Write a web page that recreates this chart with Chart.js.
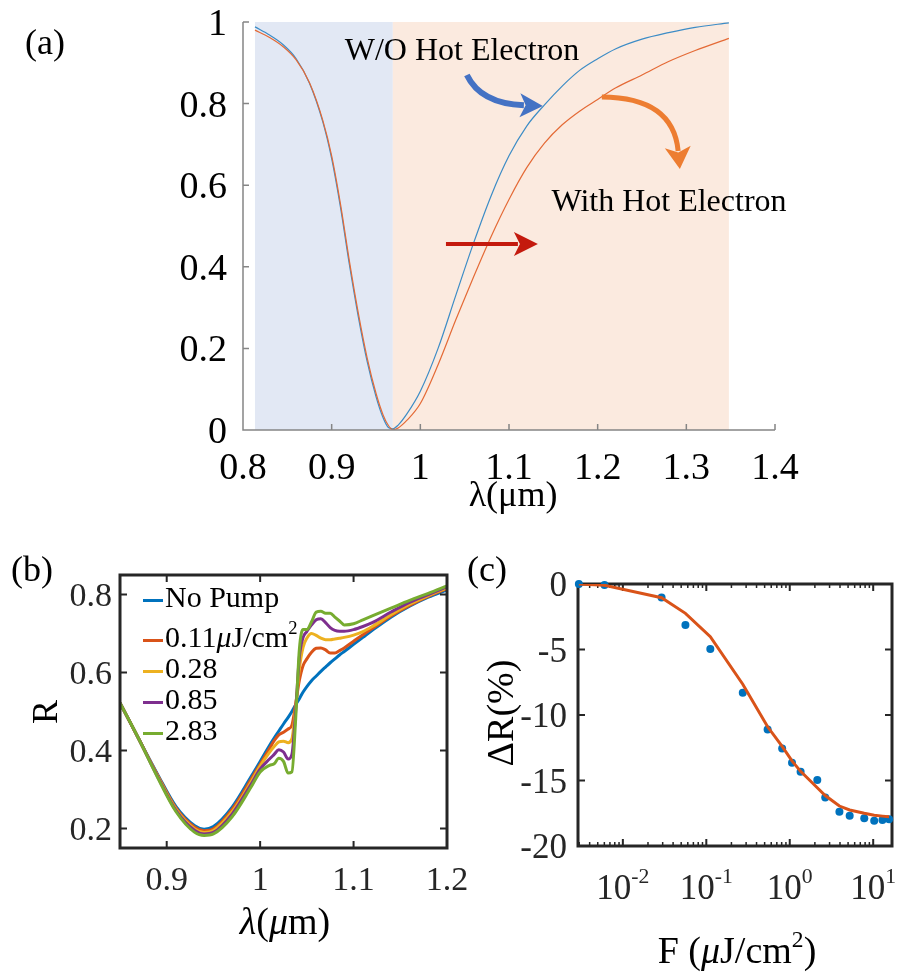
<!DOCTYPE html>
<html>
<head>
<title>Reflectance with and without hot electrons</title>
<script src="https://cdn.jsdelivr.net/npm/chart.js"></script>
<style>
  body { margin: 0; background: #fff; }
  #fig { position: relative; width: 897px; height: 972px; overflow: hidden;
         font-family: "Liberation Serif", "Times New Roman", serif; color: #000; }
  #fig canvas { position: absolute; }
  .txt { position: absolute; white-space: nowrap; line-height: 1; transform: translate(-50%, -50%); }
  .rot { transform: translate(-50%, -50%) rotate(-90deg); }
  .tick { position: absolute; white-space: nowrap; line-height: 1; }
  .legend div { position: absolute; left: 143px; white-space: nowrap; line-height: 1; font-size: 30px;
                transform: translateY(-50%); color: #000; }
  .legend span { display: inline-block; width: 20px; height: 3px; vertical-align: middle; margin-right: 2px; }
  sup { font-size: 62%; vertical-align: 0.7em; line-height: 0; }
</style>
</head>
<body>
<div id="fig">
  <canvas id="chartB" width="500" height="432" style="left:0;top:540px"></canvas>
  <canvas id="chartC" width="447" height="432" style="left:450px;top:540px"></canvas>
  <canvas id="chartA" width="897" height="530" style="left:0;top:0"></canvas>

  <div class="txt" style="left:45px;top:42px;font-size:36px">(a)</div>
  <div class="txt" style="left:462px;top:49px;font-size:32px">W/O Hot Electron</div>
  <div class="txt" style="left:669px;top:200px;font-size:32px">With Hot Electron</div>
  <div class="txt" style="left:513px;top:494px;font-size:36px">λ(μm)</div>

  <div class="txt" style="left:32px;top:569px;font-size:36px">(b)</div>
  <div class="txt rot" style="left:45px;top:712px;font-size:36px">R</div>
  <div class="txt" style="left:285px;top:921px;font-size:38px"><i>λ</i>(<i>μ</i>m)</div>
  <div class="legend">
    <div style="top:597px"><span style="background:#0072BD"></span>No Pump</div>
    <div style="top:637px"><span style="background:#D95319"></span>0.11<i>μ</i>J/cm<sup>2</sup></div>
    <div style="top:668px"><span style="background:#EDB120"></span>0.28</div>
    <div style="top:699px"><span style="background:#7E2F8E"></span>0.85</div>
    <div style="top:730px"><span style="background:#77AC30"></span>2.83</div>
  </div>

  <div class="txt" style="left:487px;top:569px;font-size:36px">(c)</div>
  <div class="txt rot" style="left:500px;top:713px;font-size:38px">ΔR(%)</div>
  <div class="txt" style="left:737px;top:950px;font-size:38px">F (<i>μ</i>J/cm<sup>2</sup>)</div>
</div>

<script>
  // (a) simulated reflectance, wavelength in um
  const lambdaA = [0.8135, 0.83, 0.845, 0.86, 0.875, 0.89, 0.9, 0.91, 0.92, 0.93,
                   0.94, 0.95, 0.958, 0.964, 0.969, 0.975, 0.985, 1.0, 1.02, 1.04,
                   1.06, 1.08, 1.1, 1.12, 1.14, 1.16, 1.18, 1.2, 1.22, 1.25,
                   1.28, 1.31, 1.348];
  const reflNoHot = [0.988, 0.968, 0.945, 0.91, 0.85, 0.755, 0.665, 0.545, 0.405, 0.278,
                     0.168, 0.082, 0.03, 0.006, 0.003, 0.012, 0.04, 0.095, 0.2, 0.33,
                     0.458, 0.575, 0.672, 0.745, 0.797, 0.843, 0.882, 0.91, 0.934, 0.958,
                     0.974, 0.987, 0.998];
  const reflHot = [0.98, 0.962, 0.94, 0.907, 0.851, 0.759, 0.672, 0.553, 0.414, 0.287,
                   0.177, 0.09, 0.037, 0.011, 0.001, 0.005, 0.024, 0.065, 0.16, 0.27,
                   0.375, 0.475, 0.565, 0.643, 0.703, 0.748, 0.782, 0.81, 0.838, 0.87,
                   0.903, 0.93, 0.96];
  const bandEdgesA = [0.8135, 0.969, 1.348];
  const xTicksA = [0.8, 0.9, 1.0, 1.1, 1.2, 1.3, 1.4];
  const xTickLabelsA = ['0.8', '0.9', '1', '1.1', '1.2', '1.3', '1.4'];
  const yTicksA = [0, 0.2, 0.4, 0.6, 0.8, 1];
  const yTickLabelsA = ['0', '0.2', '0.4', '0.6', '0.8', '1'];

  // (b) measured R vs wavelength for several pump fluences
  const lambdaB = [0.85, 0.87, 0.89, 0.91, 0.93, 0.94, 0.95, 0.97, 0.99, 1.0,
                   1.01, 1.015, 1.02, 1.025, 1.03, 1.034, 1.038, 1.042, 1.046, 1.05,
                   1.055, 1.06, 1.065, 1.07, 1.075, 1.08, 1.085, 1.09, 1.1, 1.11,
                   1.12, 1.14, 1.16, 1.18, 1.2];
  const rNoPump = [0.522, 0.43, 0.34, 0.256, 0.207, 0.198, 0.205, 0.255, 0.332, 0.372,
                   0.413, 0.432, 0.45, 0.468, 0.485, 0.5, 0.517, 0.533, 0.55, 0.564,
                   0.579, 0.591, 0.603, 0.614, 0.625, 0.635, 0.645, 0.654, 0.672, 0.69,
                   0.708, 0.742, 0.77, 0.793, 0.812];
  const r011 = [0.522, 0.43, 0.338, 0.252, 0.203, 0.194, 0.199, 0.249, 0.325, 0.365,
                0.405, 0.425, 0.44, 0.447, 0.455, 0.465, 0.52, 0.58, 0.618, 0.635,
                0.652, 0.662, 0.663, 0.658, 0.65, 0.65, 0.656, 0.663, 0.68, 0.697,
                0.713, 0.745, 0.772, 0.795, 0.815];
  const r028 = [0.522, 0.43, 0.336, 0.249, 0.199, 0.19, 0.195, 0.243, 0.318, 0.36,
                0.395, 0.41, 0.422, 0.424, 0.42, 0.43, 0.51, 0.61, 0.665, 0.688,
                0.7, 0.695, 0.688, 0.684, 0.684, 0.686, 0.688, 0.69, 0.696, 0.705,
                0.718, 0.748, 0.775, 0.797, 0.817];
  const r085 = [0.522, 0.43, 0.334, 0.246, 0.195, 0.186, 0.19, 0.237, 0.312, 0.352,
                0.378, 0.39, 0.402, 0.396, 0.378, 0.39, 0.5, 0.64, 0.69, 0.705,
                0.722, 0.735, 0.738, 0.728, 0.715, 0.708, 0.706, 0.706, 0.71, 0.718,
                0.728, 0.755, 0.78, 0.8, 0.82];
  const r283 = [0.522, 0.43, 0.332, 0.243, 0.19, 0.182, 0.186, 0.23, 0.305, 0.345,
                0.362, 0.366, 0.38, 0.372, 0.342, 0.345, 0.48, 0.66, 0.71, 0.71,
                0.73, 0.755, 0.757, 0.752, 0.752, 0.742, 0.732, 0.722, 0.725, 0.735,
                0.745, 0.765, 0.785, 0.803, 0.822];
  const xTicksB = [0.9, 1.0, 1.1, 1.2];
  const xTickLabelsB = ['0.9', '1', '1.1', '1.2'];
  const yTicksB = [0.2, 0.4, 0.6, 0.8];
  const yTickLabelsB = ['0.2', '0.4', '0.6', '0.8'];

  // (c) change of R vs pump fluence (uJ/cm2)
  const fluence = [0.00297, 0.00603, 0.0291, 0.0562, 0.1117, 0.2735, 0.543, 0.811, 1.064,
                   1.349, 2.138, 2.661, 3.936, 5.224, 7.816, 10.28, 12.91, 15.49];
  const dRmeas = [0, -0.08, -1.04, -3.13, -4.96, -8.3, -11.1, -12.55, -13.64,
                  -14.33, -14.96, -16.3, -17.38, -17.69, -17.89, -18.07, -18.02, -17.96];
  const dRfit = [0, -0.1, -1.05, -2.24, -4.02, -7.65, -10.9, -12.4, -13.5,
                 -14.3, -15.55, -16.15, -16.95, -17.25, -17.5, -17.65, -17.72, -17.77];
  const xTicksC = [0.01, 0.1, 1, 10];
  const xTickLabelsC = ['10<sup>-2</sup>', '10<sup>-1</sup>', '10<sup>0</sup>', '10<sup>1</sup>'];
  const yTicksC = [0, -5, -10, -15, -20];
  const yTickLabelsC = ['0', '-5', '-10', '-15', '-20'];

  Chart.defaults.font.family = '"Liberation Serif", "Times New Roman", serif';

  function pts(xs, ys) {
    return xs.map((x, i) => ({ x: x, y: ys[i] }));
  }

  // scale helpers: fixed tick list and fixed box size so the plot areas line up;
  // the tick text itself is placed as page text by the htmlTicks plugin below
  function xAxis(min, max, ticks, height) {
    return {
      type: 'linear', min: min, max: max,
      afterBuildTicks: s => { s.ticks = ticks.map(v => ({ value: v })); },
      afterFit: s => { s.height = height; s.paddingLeft = 0; s.paddingRight = 0; },
      grid: { display: false, drawTicks: false },
      border: { display: false },
      ticks: { display: false, autoSkip: false }
    };
  }
  function yAxis(min, max, ticks, width) {
    return {
      type: 'linear', min: min, max: max,
      afterBuildTicks: s => { s.ticks = ticks.map(v => ({ value: v })); },
      afterFit: s => { s.width = width; s.paddingTop = 0; s.paddingBottom = 0; },
      grid: { display: false, drawTicks: false },
      border: { display: false },
      ticks: { display: false, autoSkip: false }
    };
  }

  const htmlTicks = {
    id: 'htmlTicks',
    afterDraw(chart, args, o) {
      const fig = document.getElementById('fig');
      const ox = chart.canvas.offsetLeft, oy = chart.canvas.offsetTop;
      const a = chart.chartArea;
      (chart.$tickEls || []).forEach(el => el.remove());
      chart.$tickEls = [];
      const put = (html, left, top, shift) => {
        const el = document.createElement('div');
        el.className = 'tick';
        el.innerHTML = html;
        el.style.left = left + 'px';
        el.style.top = top + 'px';
        el.style.transform = shift;
        el.style.fontSize = o.size + 'px';
        el.style.color = o.color;
        fig.appendChild(el);
        chart.$tickEls.push(el);
      };
      const { x, y } = chart.scales;
      x.ticks.forEach((t, i) => put(o.xLabels[i], ox + x.getPixelForValue(t.value), oy + a.bottom + o.xGap, 'translate(-50%, -50%)'));
      y.ticks.forEach((t, i) => put(o.yLabels[i], ox + a.left - o.yGap, oy + y.getPixelForValue(t.value), 'translate(-100%, -50%)'));
    }
  };

  function drawArrow(ctx, p0, p1, p2, color, width, headLen, headHalf) {
    const dx = p2.x - p1.x, dy = p2.y - p1.y, d = Math.hypot(dx, dy);
    const ux = dx / d, uy = dy / d;
    const bx = p2.x - ux * headLen, by = p2.y - uy * headLen;
    ctx.save();
    ctx.strokeStyle = color;
    ctx.fillStyle = color;
    ctx.lineWidth = width;
    ctx.beginPath();
    ctx.moveTo(p0.x, p0.y);
    ctx.quadraticCurveTo(p1.x, p1.y, bx + ux * 4, by + uy * 4);
    ctx.stroke();
    ctx.beginPath();
    ctx.moveTo(p2.x, p2.y);
    ctx.lineTo(bx - uy * headHalf, by + ux * headHalf);
    ctx.lineTo(bx + ux * headLen * 0.25, by + uy * headLen * 0.25);
    ctx.lineTo(bx + uy * headHalf, by - ux * headHalf);
    ctx.closePath();
    ctx.fill();
    ctx.restore();
  }

  // annotation arrows of panel (a), in data units
  const arrowsA = [
    { tail: [1.0525, 0.870], ctrl: [1.068, 0.80], tip: [1.1382, 0.794], color: '#4472C4', width: 6, len: 23, half: 12 },
    { tail: [1.2047, 0.816], ctrl: [1.285, 0.815], tip: [1.2927, 0.64], color: '#ED7D31', width: 5, len: 22, half: 13 },
    { tail: [1.0289, 0.456], ctrl: [1.08, 0.456], tip: [1.1326, 0.456], color: '#C41A0E', width: 4, len: 24, half: 12 }
  ];

  const panelAExtras = {
    id: 'panelAExtras',
    beforeDatasetsDraw(chart) {
      const { ctx, chartArea: a, scales: { x } } = chart;
      const colors = ['#E2E8F4', '#FBEADF'];
      ctx.save();
      for (let i = 0; i < bandEdgesA.length - 1; i++) {
        const x0 = x.getPixelForValue(bandEdgesA[i]);
        const x1 = x.getPixelForValue(bandEdgesA[i + 1]);
        ctx.fillStyle = colors[i];
        ctx.fillRect(x0, a.top, x1 - x0, a.bottom - a.top);
      }
      ctx.restore();
    },
    afterDatasetsDraw(chart) {
      const { ctx, chartArea: a, scales: { x, y } } = chart;
      ctx.save();
      ctx.strokeStyle = '#858585';
      ctx.lineWidth = 1.5;
      ctx.beginPath();
      ctx.moveTo(a.left, a.top);
      ctx.lineTo(a.left, a.bottom);
      ctx.lineTo(a.right, a.bottom);
      x.ticks.forEach(t => {
        const px = x.getPixelForValue(t.value);
        ctx.moveTo(px, a.bottom);
        ctx.lineTo(px, a.bottom - 6);
      });
      y.ticks.forEach(t => {
        const py = y.getPixelForValue(t.value);
        ctx.moveTo(a.left, py);
        ctx.lineTo(a.left + 6, py);
      });
      ctx.stroke();
      ctx.restore();
      arrowsA.forEach(ar => {
        const p = v => ({ x: x.getPixelForValue(v[0]), y: y.getPixelForValue(v[1]) });
        drawArrow(ctx, p(ar.tail), p(ar.ctrl), p(ar.tip), ar.color, ar.width, ar.len, ar.half);
      });
    }
  };

  function drawBox(chart, minorX) {
    const { ctx, chartArea: a, scales: { x, y } } = chart;
    ctx.save();
    ctx.strokeStyle = '#262626';
    ctx.lineWidth = 3;
    ctx.strokeRect(a.left, a.top, a.right - a.left, a.bottom - a.top);
    ctx.lineWidth = 2;
    ctx.beginPath();
    x.ticks.forEach(t => {
      const px = x.getPixelForValue(t.value);
      ctx.moveTo(px, a.bottom); ctx.lineTo(px, a.bottom - 7);
      ctx.moveTo(px, a.top); ctx.lineTo(px, a.top + 7);
    });
    y.ticks.forEach(t => {
      const py = y.getPixelForValue(t.value);
      ctx.moveTo(a.left, py); ctx.lineTo(a.left + 7, py);
      ctx.moveTo(a.right, py); ctx.lineTo(a.right - 7, py);
    });
    ctx.stroke();
    if (minorX) {
      ctx.lineWidth = 1.5;
      ctx.beginPath();
      for (let d = -3; d <= 1; d++) {
        for (let m = 2; m <= 9; m++) {
          const v = m * Math.pow(10, d);
          if (v <= x.min || v >= x.max) continue;
          const px = x.getPixelForValue(v);
          ctx.moveTo(px, a.bottom); ctx.lineTo(px, a.bottom - 4);
          ctx.moveTo(px, a.top); ctx.lineTo(px, a.top + 4);
        }
      }
      ctx.stroke();
    }
    ctx.restore();
  }

  // (a)
  new Chart(document.getElementById('chartA'), {
    type: 'line',
    data: {
      datasets: [
        { label: 'With Hot Electron', data: pts(lambdaA, reflHot), borderColor: '#E46A36',
          borderWidth: 1.2, pointRadius: 0, cubicInterpolationMode: 'monotone' },
        { label: 'W/O Hot Electron', data: pts(lambdaA, reflNoHot), borderColor: '#3C8CC6',
          borderWidth: 1.2, pointRadius: 0, cubicInterpolationMode: 'monotone' }
      ]
    },
    options: {
      responsive: false, animation: false,
      layout: { padding: { left: 0, top: 22, right: 122, bottom: 0 } },
      plugins: {
        legend: { display: false }, tooltip: { enabled: false },
        htmlTicks: { xLabels: xTickLabelsA, yLabels: yTickLabelsA, size: 38, color: '#000', xGap: 36, yGap: 16 }
      },
      scales: {
        x: xAxis(0.8, 1.4, xTicksA, 100),
        y: yAxis(0, 1, yTicksA, 243)
      }
    },
    plugins: [panelAExtras, htmlTicks]
  });

  // (b)
  const seriesB = [
    { label: 'No Pump', ys: rNoPump, color: '#0072BD' },
    { label: '0.11 μJ/cm²', ys: r011, color: '#D95319' },
    { label: '0.28', ys: r028, color: '#EDB120' },
    { label: '0.85', ys: r085, color: '#7E2F8E' },
    { label: '2.83', ys: r283, color: '#77AC30' }
  ];
  new Chart(document.getElementById('chartB'), {
    type: 'line',
    data: {
      datasets: seriesB.map((s, i) => ({
        label: s.label, data: pts(lambdaB, s.ys), borderColor: s.color, borderWidth: 3,
        pointRadius: 0, cubicInterpolationMode: 'monotone', order: seriesB.length - i
      }))
    },
    options: {
      responsive: false, animation: false,
      layout: { padding: { left: 0, top: 35, right: 53, bottom: 0 } },
      plugins: {
        legend: { display: false }, tooltip: { enabled: false },
        htmlTicks: { xLabels: xTickLabelsB, yLabels: yTickLabelsB, size: 34, color: '#262626', xGap: 31, yGap: 8 }
      },
      scales: {
        x: xAxis(0.85, 1.2, xTicksB, 124),
        y: yAxis(0.15, 0.85, yTicksB, 120)
      }
    },
    plugins: [{ id: 'boxB', afterDatasetsDraw: chart => drawBox(chart, false) }, htmlTicks]
  });

  // (c)
  const axisCx = xAxis(0.0029, 16.8, xTicksC, 126);
  axisCx.type = 'logarithmic';
  new Chart(document.getElementById('chartC'), {
    type: 'line',
    data: {
      datasets: [
        { label: 'fit', data: pts(fluence, dRfit), borderColor: '#D95319', borderWidth: 3,
          pointRadius: 0, tension: 0, order: 1 },
        { label: 'data', data: pts(fluence, dRmeas), showLine: false, pointRadius: 4,
          pointBackgroundColor: '#0072BD', pointBorderWidth: 0, clip: false, order: 2 }
      ]
    },
    options: {
      responsive: false, animation: false,
      layout: { padding: { left: 0, top: 44, right: 5, bottom: 0 } },
      plugins: {
        legend: { display: false }, tooltip: { enabled: false },
        htmlTicks: { xLabels: xTickLabelsC, yLabels: yTickLabelsC, size: 35, color: '#262626', xGap: 41, yGap: 11 }
      },
      scales: {
        x: axisCx,
        y: yAxis(-20, 0, yTicksC, 128)
      }
    },
    plugins: [{ id: 'boxC', beforeDatasetsDraw: chart => drawBox(chart, true) }, htmlTicks]
  });
</script>
</body>
</html>
